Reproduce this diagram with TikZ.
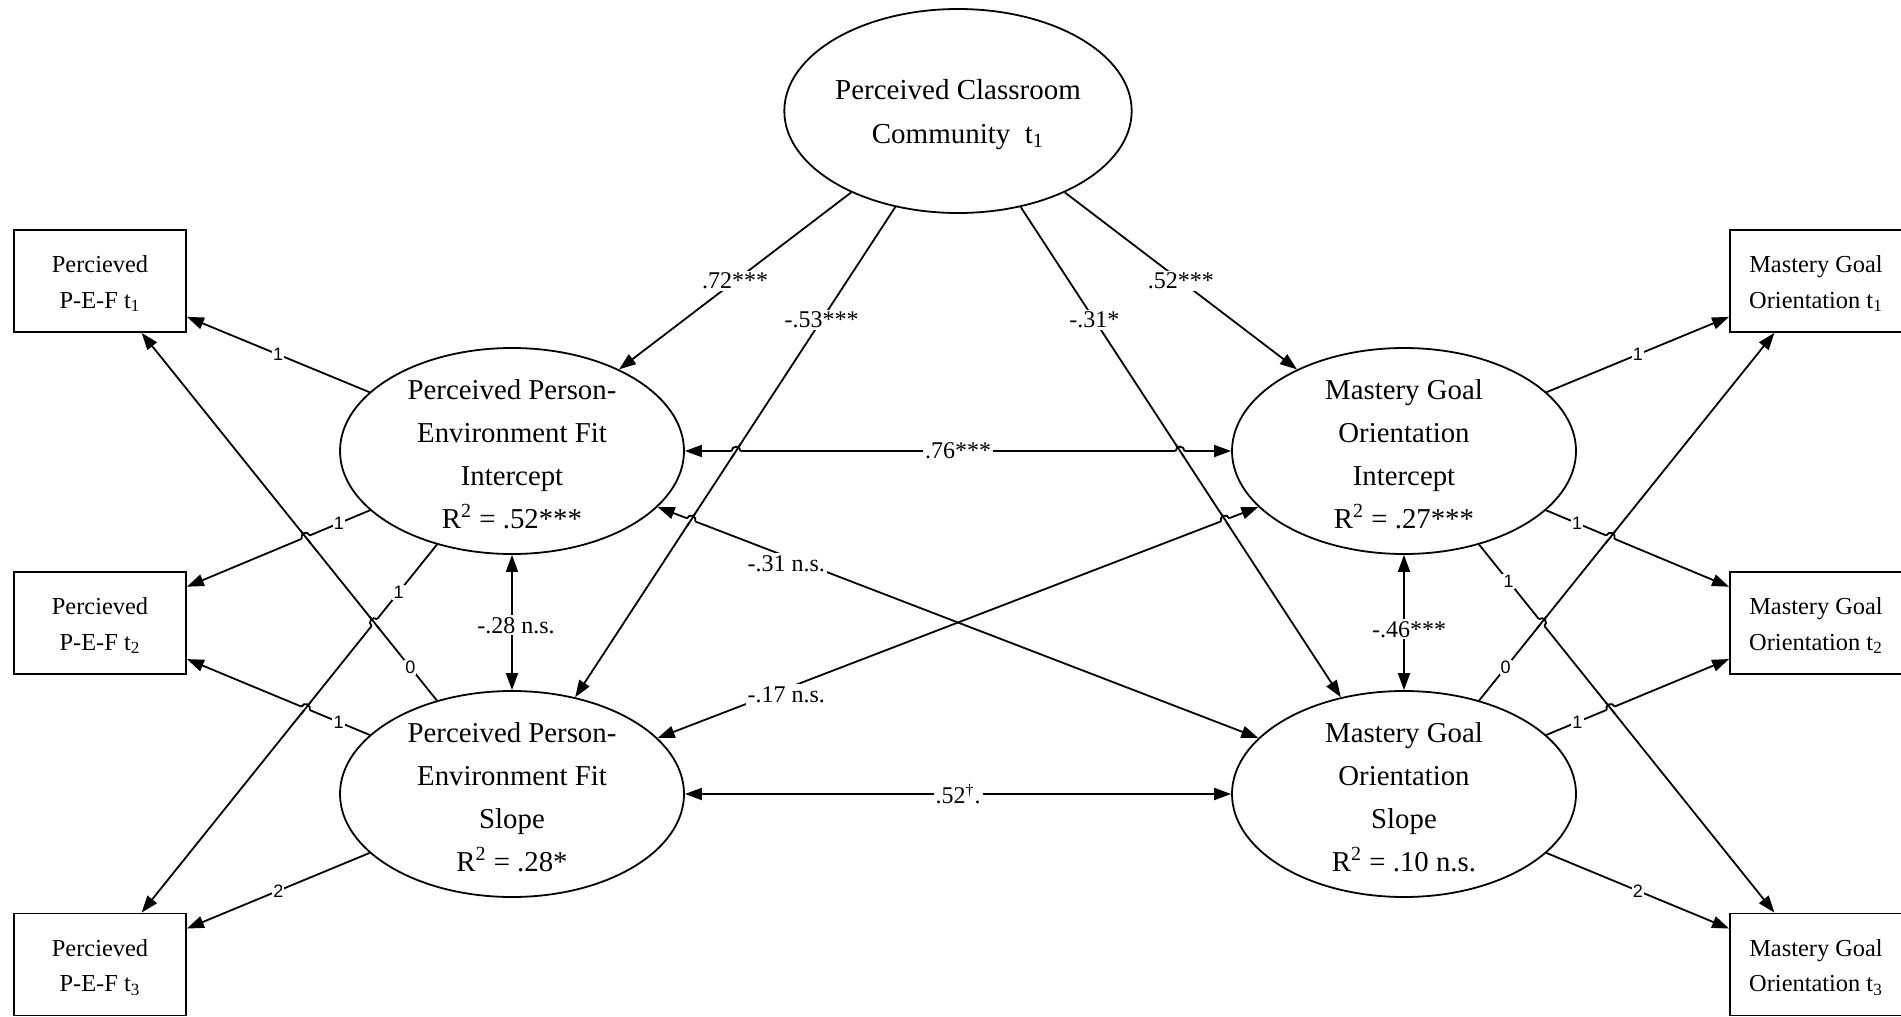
\documentclass[tikz,border=0pt]{standalone}
\usepackage{fontspec}
\setmainfont{Liberation Serif}
\newfontfamily\loadfont{Liberation Sans}
\usetikzlibrary{shapes.geometric,arrows.meta,calc}

% little bridge where line #1--#2 jumps over line #3--#4
\newcommand\hopover[4]{%
  \coordinate (hopx) at (intersection of #1--#2 and #3--#4);
  \draw[white, line width=2.6pt] ($(hopx)!2.2pt!(#1)$) -- ($(hopx)!2.2pt!(#2)$);
  \draw[line width=0.9pt] ($(hopx)!4pt!(#3)$) -- ($(hopx)!4pt!(#4)$);
  \draw[line width=0.9pt] let \p1=($(#2)-(#1)$), \n1={atan2(\y1,\x1)} in
    ($(hopx)!2.2pt!(#1)$) arc[start angle=\n1+180, end angle=\n1, radius=2.2pt];
}

\begin{document}
\begin{tikzpicture}[x=0.5pt, y=-0.5pt,
  latent/.style={draw, ellipse, line width=0.9pt, minimum width=172pt, minimum height=103pt, inner xsep=0pt, inner ysep=-15pt, align=center, font=\fontsize{14.4}{21.4}\selectfont},
  indicator/.style={draw, rectangle, line width=0.9pt, minimum width=86pt, minimum height=51pt, inner sep=0pt, align=center, font=\fontsize{12.2}{17.6}\selectfont},
  arrowpath/.style={-{Triangle[length=8.5pt,width=6pt]}, line width=0.9pt},
  covpath/.style={{Triangle[length=8.5pt,width=6pt]}-{Triangle[length=8.5pt,width=6pt]}, line width=0.9pt},
  coeflabel/.style={fill=white, inner sep=1pt, font=\fontsize{12}{14}\selectfont},
  loadlabel/.style={fill=white, inner sep=0.6pt, font=\loadfont\fontsize{9}{10}\selectfont}]

\useasboundingbox (0,0) rectangle (1901,1017);

% Predictor at the top
\node[latent, minimum width=173pt, minimum height=102pt, font=\fontsize{14.5}{21.8}\selectfont] (comm) at (958,111) {\rule{0pt}{13.5pt}Perceived Classroom\\Community~ t\textsubscript{1}};

% Growth factors, left and right
\node[latent] (pefi) at (512,451) {\rule{0pt}{13.2pt}Perceived Person-\\Environment Fit\\Intercept\\R\textsuperscript{2} = .52***};
\node[latent] (pefs) at (512,794) {\rule{0pt}{13.2pt}Perceived Person-\\Environment Fit\\Slope\\R\textsuperscript{2} = .28*};
\node[latent] (mgoi) at (1404,451) {\rule{0pt}{13.2pt}Mastery Goal\\Orientation\\Intercept\\R\textsuperscript{2} = .27***};
\node[latent] (mgos) at (1404,794) {\rule{0pt}{13.2pt}Mastery Goal\\Orientation\\Slope\\R\textsuperscript{2} = .10 n.s.};

% Measured variables left column
\node[indicator] (pef1) at (100,281) {\rule{0pt}{11.3pt}Percieved\\P-E-F t\textsubscript{1}};
\node[indicator] (pef2) at (100,623) {\rule{0pt}{11.3pt}Percieved\\P-E-F t\textsubscript{2}};
\node[indicator] (pef3) at (100,964.5) {\rule{0pt}{11.3pt}Percieved\\P-E-F t\textsubscript{3}};

% Measured variables right column
\node[indicator] (mgo1) at (1816,281) {\rule{0pt}{11.3pt}Mastery Goal\\Orientation t\textsubscript{1}};
\node[indicator] (mgo2) at (1816,623) {\rule{0pt}{11.3pt}Mastery Goal\\Orientation t\textsubscript{2}};
\node[indicator] (mgo3) at (1816,964.5) {\rule{0pt}{11.3pt}Mastery Goal\\Orientation t\textsubscript{3}};

% Loadings left
\draw[arrowpath] (pefi) -- node[loadlabel, pos=.5] {1} (pef1);
\draw[arrowpath] (pefi) -- node[loadlabel, pos=.17] {1} (pef2);
\draw[arrowpath] (pefi) -- node[loadlabel, pos=.13] {1} (pef3);
\draw[arrowpath] (pefs) -- node[loadlabel, pos=.09] {0} (pef1);
\draw[arrowpath] (pefs) -- node[loadlabel, pos=.17] {1} (pef2);
\draw[arrowpath] (pefs) -- node[loadlabel, pos=.5] {2} (pef3);

% Loadings right
\draw[arrowpath] (mgoi) -- node[loadlabel, pos=.5] {1} (mgo1);
\draw[arrowpath] (mgoi) -- node[loadlabel, pos=.17] {1} (mgo2);
\draw[arrowpath] (mgoi) -- node[loadlabel, pos=.1] {1} (mgo3);
\draw[arrowpath] (mgos) -- node[loadlabel, pos=.09] {0} (mgo1);
\draw[arrowpath] (mgos) -- node[loadlabel, pos=.17] {1} (mgo2);
\draw[arrowpath] (mgos) -- node[loadlabel, pos=.5] {2} (mgo3);

% Regressions on classroom community
\draw[arrowpath] (comm) -- node[coeflabel, pos=.5] {.72***} (pefi);
\draw[arrowpath] (comm) -- node[coeflabel, pos=.23] {-.53***} (pefs);
\draw[arrowpath] (comm) -- node[coeflabel, pos=.23] {-.31*} (mgos);
\draw[arrowpath] (comm) -- node[coeflabel, pos=.5] {.52***} (mgoi);

% Covariances
\draw[covpath] (pefi) -- node[coeflabel] {.76***} (mgoi);
\draw[covpath] (pefs) -- node[coeflabel] {.52\textsuperscript{\dag}.} (mgos);
\draw[covpath] (pefi) -- node[coeflabel, pos=.52, xshift=2pt] {-.28 n.s.} (pefs);
\draw[covpath] (mgoi) -- node[coeflabel, pos=.55, xshift=2.5pt] {-.46***} (mgos);
\draw[covpath] (pefi) -- node[coeflabel, pos=.214, yshift=-3.5pt] {-.31 n.s.} (mgos);
\draw[covpath] (pefs) -- node[coeflabel, pos=.214, yshift=-3pt] {-.17 n.s.} (mgoi);

% Line hops at crossings
\hopover{pefi}{mgoi}{comm}{pefs}
\hopover{pefi}{mgoi}{comm}{mgos}
\hopover{pefi}{mgos}{comm}{pefs}
\hopover{pefs}{mgoi}{comm}{mgos}
\hopover{pef2}{pefi}{pefs}{pef1}
\hopover{pef3}{pefi}{pefs}{pef1}
\hopover{pef2}{pefs}{pefi}{pef3}
\hopover{mgoi}{mgo2}{mgos}{mgo1}
\hopover{mgoi}{mgo3}{mgos}{mgo1}
\hopover{mgos}{mgo2}{mgoi}{mgo3}
\end{tikzpicture}
\end{document}
